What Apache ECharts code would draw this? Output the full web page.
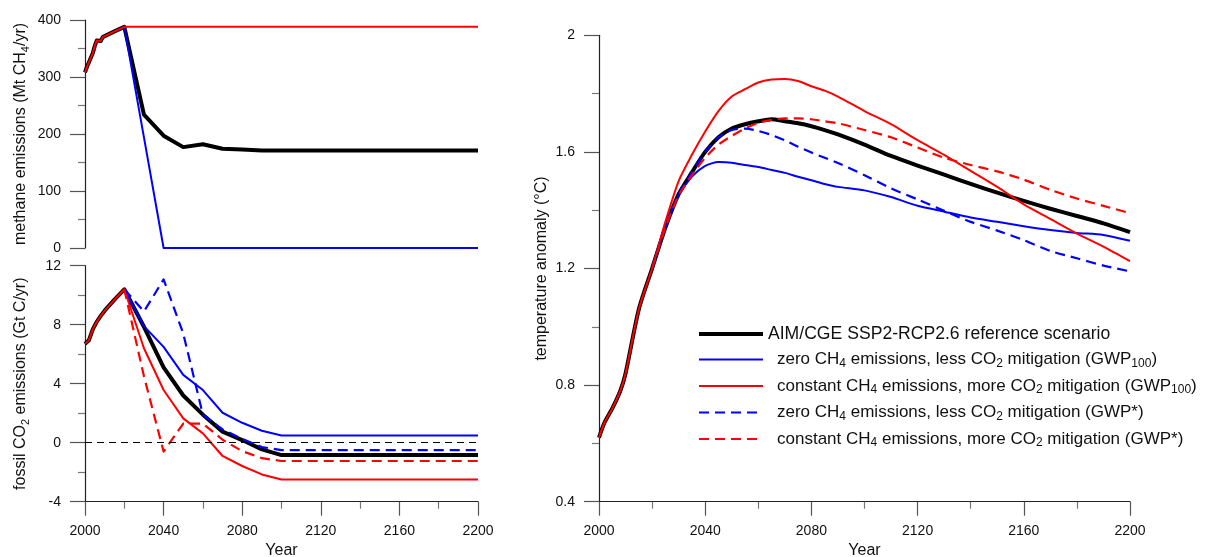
<!DOCTYPE html>
<html>
<head>
<meta charset="utf-8">
<script src="https://cdn.jsdelivr.net/npm/echarts@6.0.0/dist/echarts.min.js"></script>
<style>
html, body { margin: 0; padding: 0; background: #fff; }
#chart { width: 1206px; height: 557px; }
</style>
</head>
<body>
<div id="chart"></div>
<script>
// 甲烷排放 (Mt CH4/yr)
var ch4HistYears = [2000, 2001, 2002, 2003, 2004, 2005, 2006, 2007, 2008, 2009, 2010, 2015, 2020];
var ch4Hist = [308, 318, 326, 328, 342, 355, 364, 366, 363, 370, 372, 380, 388];
var ch4Years = [2020, 2030, 2040, 2050, 2060, 2070, 2080, 2090, 2100, 2200];
var ch4Ref = [388, 234, 197, 177, 182, 174, 173, 171, 171, 171];
var ch4Zero = [388, 194, 0, 0, 0, 0, 0, 0, 0, 0];
var ch4Const = [388, 388, 388, 388, 388, 388, 388, 388, 388, 388];

// 化石 CO2 排放 (Gt C/yr)
var co2HistYears = [2000, 2002, 2004, 2006, 2008, 2010, 2015, 2020];
var co2Hist = [6.7, 6.95, 7.7, 8.2, 8.6, 8.95, 9.7, 10.4];
var co2Years = [2020, 2030, 2040, 2050, 2060, 2070, 2080, 2090, 2100, 2200];
var co2Ref = [10.4, 7.86, 5.1, 3.2, 1.9, 0.75, 0.18, -0.45, -0.84, -0.84];
var co2Zero100 = [10.4, 7.9, 6.5, 4.6, 3.57, 2.03, 1.35, 0.81, 0.49, 0.49];
var co2Const100 = [10.4, 6.4, 3.57, 1.65, 0.63, -0.9, -1.58, -2.15, -2.5, -2.5];
var co2ZeroStar = [10.4, 8.9, 11.07, 7.4, 1.9, 0.9, 0.25, -0.3, -0.5, -0.5];
var co2ConstStar = [10.4, 4.5, -0.6, 1.3, 1.3, 0.2, -0.57, -1.05, -1.24, -1.24];

// 温度异常 (°C)
var tHistYears = [2000, 2002, 2005, 2008, 2010, 2015, 2020];
var tHist = [0.62, 0.67, 0.72, 0.78, 0.84, 1.06, 1.2];
var tYears = [2020, 2025, 2030, 2035, 2040, 2045, 2050, 2055, 2060, 2065, 2070, 2075, 2080, 2085, 2090,
  2100, 2110, 2120, 2130, 2140, 2150, 2160, 2170, 2180, 2190, 2200];
var tRef = [1.2, 1.34, 1.455, 1.53, 1.6, 1.65, 1.68, 1.695, 1.705, 1.712, 1.705, 1.698, 1.688, 1.675, 1.66,
  1.625, 1.586, 1.553, 1.522, 1.49, 1.46, 1.432, 1.405, 1.38, 1.355, 1.325];
var tZero100 = [1.2, 1.34, 1.45, 1.515, 1.552, 1.565, 1.563, 1.555, 1.548, 1.538, 1.528, 1.515, 1.503, 1.49, 1.48,
  1.468, 1.445, 1.415, 1.395, 1.375, 1.36, 1.345, 1.332, 1.322, 1.315, 1.295];
var tConst100 = [1.2, 1.36, 1.5, 1.59, 1.67, 1.74, 1.79, 1.815, 1.838, 1.848, 1.85, 1.843, 1.825, 1.81, 1.79,
  1.74, 1.695, 1.64, 1.59, 1.535, 1.48, 1.42, 1.37, 1.32, 1.275, 1.225];
var tZeroStar = [1.2, 1.34, 1.455, 1.53, 1.6, 1.65, 1.675, 1.68, 1.672, 1.658, 1.64, 1.618, 1.598, 1.58, 1.562,
  1.52, 1.475, 1.437, 1.398, 1.36, 1.33, 1.297, 1.26, 1.235, 1.21, 1.19];
var tConstStar = [1.2, 1.34, 1.45, 1.52, 1.58, 1.625, 1.655, 1.68, 1.7, 1.71, 1.715, 1.715, 1.712, 1.705, 1.698,
  1.675, 1.65, 1.615, 1.58, 1.555, 1.533, 1.505, 1.47, 1.44, 1.415, 1.39];

var names = [
  'AIM/CGE SSP2-RCP2.6 reference scenario',
  'zero CH4 emissions, less CO2 mitigation (GWP100)',
  'constant CH4 emissions, more CO2 mitigation (GWP100)',
  'zero CH4 emissions, less CO2 mitigation (GWP*)',
  'constant CH4 emissions, more CO2 mitigation (GWP*)'
];
var legendText = {};
legendText[names[0]] = '{a|AIM/CGE SSP2-RCP2.6 reference scenario}';
legendText[names[1]] = '{i|}{b|zero CH}{s|4}{b| emissions, less CO}{s|2}{b| mitigation (GWP}{s|100}{b|)}';
legendText[names[2]] = '{i|}{b|constant CH}{s|4}{b| emissions, more CO}{s|2}{b| mitigation (GWP}{s|100}{b|)}';
legendText[names[3]] = '{i|}{b|zero CH}{s|4}{b| emissions, less CO}{s|2}{b| mitigation (GWP*)}';
legendText[names[4]] = '{i|}{b|constant CH}{s|4}{b| emissions, more CO}{s|2}{b| mitigation (GWP*)}';

var styles = [
  { color: '#000000', width: 4, type: 'solid' },
  { color: '#0000ff', width: 2, type: 'solid' },
  { color: '#ff0000', width: 2, type: 'solid' },
  { color: '#0000ff', width: 2.2, type: [10, 6] },
  { color: '#ff0000', width: 2.2, type: [10, 6] }
];

var FONT = '"Liberation Sans", Arial, sans-serif';

function pairs(xs, ys) {
  return xs.map(function (x, i) { return [x, ys[i]]; });
}

function line(k, gridIdx, data, extra) {
  var s = {
    name: names[k],
    type: 'line',
    xAxisIndex: gridIdx,
    yAxisIndex: gridIdx,
    data: data,
    symbol: 'none',
    showSymbol: false,
    silent: true,
    animation: false,
    color: styles[k].color,
    lineStyle: { color: styles[k].color, width: styles[k].width, type: styles[k].type, join: 'round', cap: 'butt' }
  };
  if (extra) Object.assign(s, extra);
  return s;
}

var subRich = {
  a: { fontSize: 16, fontFamily: FONT, color: '#111', lineHeight: 20, verticalAlign: 'middle' },
  s: { fontSize: 11, fontFamily: FONT, color: '#111', lineHeight: 11, verticalAlign: 'bottom' }
};

function xAxis(gridIdx, show) {
  return {
    gridIndex: gridIdx,
    type: 'value',
    show: show,
    min: 2000, max: 2200, interval: 40,
    name: show ? 'Year' : '',
    nameLocation: 'middle',
    nameGap: 41,
    nameTextStyle: { fontSize: 16, fontFamily: FONT, color: '#111' },
    axisLine: { show: true, onZero: false, lineStyle: { color: '#222', width: 1.2 } },
    axisTick: { show: true, inside: false, length: 14, lineStyle: { color: '#555', width: 1.2 } },
    minorTick: { show: true, splitNumber: 2, length: 7, lineStyle: { color: '#777', width: 1.2 } },
    axisLabel: {
      margin: 22, fontSize: 14, fontFamily: FONT, color: '#111',
      formatter: function (v) { return String(v); }
    },
    splitLine: { show: false },
    minorSplitLine: { show: false }
  };
}

function yAxis(gridIdx, min, max, interval, name, gap) {
  return {
    gridIndex: gridIdx,
    type: 'value',
    min: min, max: max, interval: interval,
    name: name,
    nameLocation: 'middle',
    nameGap: gap,
    nameRotate: 90,
    nameTextStyle: { rich: subRich },
    axisLine: { show: true, onZero: false, lineStyle: { color: '#222', width: 1.2 } },
    axisTick: { show: true, inside: false, length: 15, lineStyle: { color: '#555', width: 1.2 } },
    minorTick: { show: true, splitNumber: 2, length: 7, lineStyle: { color: '#777', width: 1.2 } },
    axisLabel: { margin: 24, fontSize: 14, fontFamily: FONT, color: '#111' },
    splitLine: { show: false },
    minorSplitLine: { show: false }
  };
}

var smoothT = { smooth: 0.25 };

var series = [
  // 甲烷
  line(0, 0, pairs(ch4HistYears, ch4Hist).concat(pairs(ch4Years, ch4Ref))),
  line(1, 0, pairs(ch4Years, ch4Zero)),
  line(2, 0, pairs(ch4HistYears, ch4Hist).concat(pairs(ch4Years, ch4Const))),
  // CO2
  line(0, 1, pairs(co2HistYears, co2Hist).concat(pairs(co2Years, co2Ref)), {
    markLine: {
      silent: true, symbol: 'none', animation: false,
      label: { show: false },
      lineStyle: { color: '#000', type: [7, 5], width: 1 },
      data: [{ yAxis: 0 }]
    }
  }),
  line(1, 1, pairs(co2Years, co2Zero100)),
  line(2, 1, pairs(co2HistYears, co2Hist).concat(pairs(co2Years, co2Const100))),
  line(3, 1, pairs(co2Years, co2ZeroStar)),
  line(4, 1, pairs(co2Years, co2ConstStar)),
  // 温度
  line(0, 2, pairs(tHistYears, tHist).concat(pairs(tYears.slice(1), tRef.slice(1))), smoothT),
  line(1, 2, pairs(tYears, tZero100), smoothT),
  line(2, 2, pairs(tHistYears, tHist).concat(pairs(tYears.slice(1), tConst100.slice(1))), smoothT),
  line(3, 2, pairs(tYears, tZeroStar), smoothT),
  line(4, 2, pairs(tYears, tConstStar), smoothT)
];

var chart = echarts.init(document.getElementById('chart'), null, { renderer: 'canvas' });
chart.setOption({
  backgroundColor: '#ffffff',
  animation: false,
  textStyle: { fontFamily: FONT },
  grid: [
    { left: 85, top: 20, width: 393, height: 228, outerBoundsMode: 'none', containLabel: false },
    { left: 85, top: 265.7, width: 393, height: 236, outerBoundsMode: 'none', containLabel: false },
    { left: 599, top: 35.3, width: 531, height: 466.4, outerBoundsMode: 'none', containLabel: false }
  ],
  xAxis: [xAxis(0, false), xAxis(1, true), xAxis(2, true)],
  yAxis: [
    yAxis(0, 0, 400, 100, '{a|methane emissions (Mt CH}{s|4}{a|/yr)}', 54),
    yAxis(1, -4, 12, 4, '{a|fossil CO}{s|2}{a| emissions (Gt C/yr)}', 54),
    yAxis(2, 0.4, 2, 0.4, '{a|temperature anomaly (°C)}', 47)
  ],
  legend: {
    show: true,
    orient: 'vertical',
    left: 697,
    top: 325,
    padding: 0,
    itemWidth: 64,
    itemHeight: 14,
    itemGap: 8,
    selectedMode: false,
    formatter: function (n) { return legendText[n]; },
    textStyle: {
      rich: {
        a: { fontSize: 17.6, fontFamily: FONT, color: '#111', lineHeight: 20, verticalAlign: 'middle' },
        b: { fontSize: 17, fontFamily: FONT, color: '#111', lineHeight: 20, verticalAlign: 'middle' },
        s: { fontSize: 12, fontFamily: FONT, color: '#111', lineHeight: 12, verticalAlign: 'bottom' },
        i: { width: 9 }
      }
    },
    data: names.map(function (n, k) {
      return {
        name: n,
        itemStyle: { opacity: 0 },
        lineStyle: { color: styles[k].color, width: styles[k].width, type: styles[k].type }
      };
    })
  },
  series: series
});
</script>
</body>
</html>
